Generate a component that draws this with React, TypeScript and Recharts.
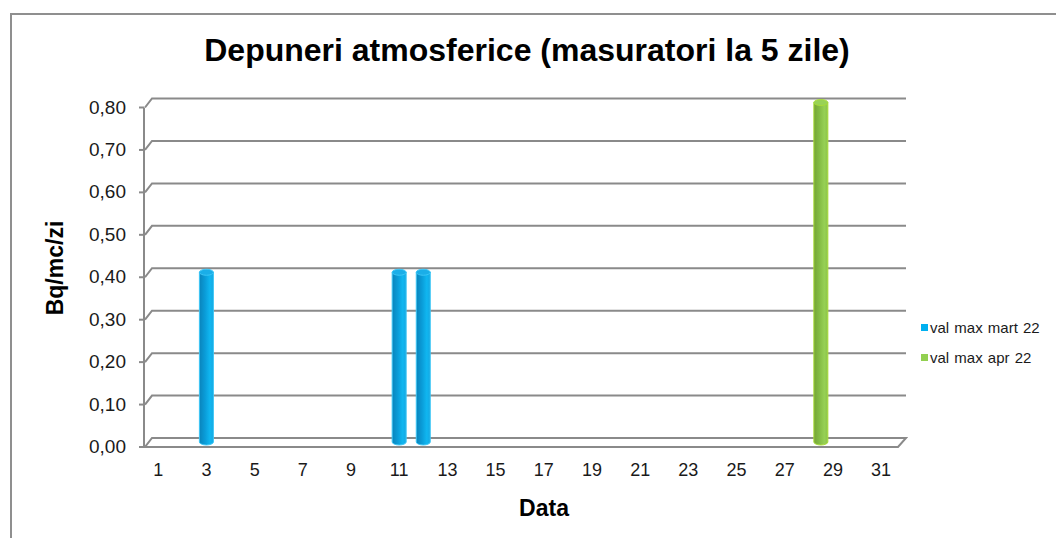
import { BarChart, Bar, XAxis, YAxis, CartesianGrid, Legend } from 'recharts'

// values
const martDays = [3, 11, 12]
const martValues = [0.4, 0.4, 0.4]
const aprDays = [28.5]
const aprValues = [0.8]
const xTicks = [1, 3, 5, 7, 9, 11, 13, 15, 17, 19, 21, 23, 25, 27, 29, 31]
const yTicks = [0, 0.1, 0.2, 0.3, 0.4, 0.5, 0.6, 0.7, 0.8]
const seriesNames = ['val max mart 22', 'val max apr 22']

const data = [
  ...martDays.map((d, i) => ({ day: d, mart: martValues[i], apr: null as number | null })),
  ...aprDays.map((d, i) => ({ day: d, mart: null as number | null, apr: aprValues[i] })),
]

const W = 1056
const H = 538
const PLOT_LEFT = 145
const PLOT_RIGHT = 898
const PLOT_TOP = 102.5
const PLOT_BOTTOM = 442
const FRONT = 5 // front edge is drawn below the mid plane
const BACK = 4 // back wall sits above it
const DEPTH = 7
const GRID = '#8a8a8a'

const COLORS: Record<string, { edge: string; top: string; legend: string }> = {
  mart: { edge: '#3cc6f6', top: '#1aaee8', legend: '#00b0f0' },
  apr: { edge: '#a8dc38', top: '#98d256', legend: '#92d050' },
}

function Cylinder(props: any) {
  const { x, y, width, height, dataKey } = props
  if (!height || height <= 0) return null
  const c = COLORS[dataKey]
  const rx = width / 2
  const ry = 3
  return (
    <g>
      <path
        d={`M${x},${y} L${x},${y + height} A${rx},${ry} 0 0 0 ${x + width},${y + height} L${x + width},${y} Z`}
        fill={`url(#cyl-${dataKey})`}
        stroke={c.edge}
        strokeWidth={1}
      />
      <ellipse cx={x + rx} cy={y} rx={rx} ry={ry} fill={c.top} stroke={c.edge} strokeWidth={1} />
    </g>
  )
}

function GridLine(props: any) {
  const { x1, x2, y1 } = props
  if (Math.abs(y1 - PLOT_BOTTOM) < 1) {
    // floor of the 3d box
    return (
      <path
        d={`M${x1},${y1 + FRONT} L${x2},${y1 + FRONT} L${x2 + DEPTH + 1},${y1 - BACK} L${x1 + DEPTH},${y1 - BACK} Z`}
        fill="none"
        stroke={GRID}
        strokeWidth={2}
      />
    )
  }
  const top = Math.abs(y1 - PLOT_TOP) < 1
  return (
    <g>
      <path
        d={`M${x1},${y1 + FRONT} L${x1 + DEPTH},${y1 - BACK} L${x2 + DEPTH + 1},${y1 - BACK}`}
        fill="none"
        stroke={GRID}
        strokeWidth={2}
      />
      {top && (
        <line x1={x1 - 1} y1={y1 + FRONT} x2={x1 - 1} y2={PLOT_BOTTOM + FRONT} stroke={GRID} strokeWidth={2} />
      )}
    </g>
  )
}

function YTick(props: any) {
  const { x, y, payload } = props
  const fy = y + FRONT
  return (
    <g>
      <line x1={x - 6} y1={fy} x2={x - 1} y2={fy} stroke={GRID} strokeWidth={2} />
      <text x={x - 19} y={fy + 6} textAnchor="end" fontSize={19} fill="#1a1a1a">
        {payload.value.toFixed(2).replace('.', ',')}
      </text>
    </g>
  )
}

function XTick(props: any) {
  const { x, y, payload } = props
  return (
    <text x={x} y={y + 34} textAnchor="middle" fontSize={18} fill="#1a1a1a">
      {payload.value}
    </text>
  )
}

function LegendBox() {
  return (
    <div style={{ fontFamily: 'Arial, "Liberation Sans", sans-serif', fontSize: 15, color: '#1a1a1a' }}>
      {seriesNames.map((name, i) => (
        <div key={name} style={{ display: 'flex', alignItems: 'center', height: 30 }}>
          <span
            style={{
              width: 7,
              height: 7,
              background: i === 0 ? COLORS.mart.legend : COLORS.apr.legend,
              marginRight: 2,
              display: 'inline-block',
            }}
          />
          <span style={{ wordSpacing: 1 }}>{name}</span>
        </div>
      ))}
    </div>
  )
}

export default function App() {
  return (
    <div
      style={{
        position: 'absolute',
        left: 0,
        top: 0,
        width: W,
        height: H,
        overflow: 'hidden',
        background: '#fff',
        fontFamily: 'Arial, "Liberation Sans", sans-serif',
      }}
    >
      <div
        style={{
          position: 'absolute',
          left: 10,
          top: 13,
          width: 1200,
          height: 700,
          borderLeft: '2px solid #8f8f8f',
          borderTop: '2px solid #8f8f8f',
        }}
      />
      <div
        style={{
          position: 'absolute',
          left: 527,
          top: 50,
          transform: 'translate(-50%, -50%)',
          fontWeight: 'bold',
          fontSize: 32,
          whiteSpace: 'nowrap',
          color: '#000',
        }}
      >
        Depuneri atmosferice (masuratori la 5 zile)
      </div>
      <div
        style={{
          position: 'absolute',
          left: 544,
          top: 508,
          transform: 'translate(-50%, -50%)',
          fontWeight: 'bold',
          fontSize: 23,
        }}
      >
        Data
      </div>
      <div
        style={{
          position: 'absolute',
          left: 55,
          top: 268,
          transform: 'translate(-50%, -50%) rotate(-90deg)',
          fontWeight: 'bold',
          fontSize: 23,
          whiteSpace: 'nowrap',
        }}
      >
        Bq/mc/zi
      </div>
      <BarChart
        width={W}
        height={H}
        data={data}
        style={{ position: 'absolute', left: 0, top: 0 }}
        margin={{ top: PLOT_TOP, right: W - PLOT_RIGHT, left: PLOT_LEFT - 60, bottom: H - PLOT_BOTTOM - 40 }}
      >
        <defs>
          <linearGradient id="cyl-mart" x1="0" y1="0" x2="1" y2="0">
            <stop offset="0%" stopColor="#0a84bb" />
            <stop offset="40%" stopColor="#0a9cd8" />
            <stop offset="75%" stopColor="#10b6f0" />
            <stop offset="100%" stopColor="#14a8e2" />
          </linearGradient>
          <linearGradient id="cyl-apr" x1="0" y1="0" x2="1" y2="0">
            <stop offset="0%" stopColor="#74a436" />
            <stop offset="40%" stopColor="#84bc44" />
            <stop offset="75%" stopColor="#96d054" />
            <stop offset="100%" stopColor="#8cc44a" />
          </linearGradient>
        </defs>
        <CartesianGrid vertical={false} horizontal={GridLine} />
        <XAxis
          dataKey="day"
          type="number"
          domain={[0.45, 31.7]}
          ticks={xTicks}
          interval={0}
          height={40}
          axisLine={false}
          tickLine={false}
          tickSize={0}
          tickMargin={0}
          tick={XTick}
        />
        <YAxis
          domain={[0, 0.8]}
          ticks={yTicks}
          width={60}
          axisLine={false}
          tickLine={false}
          tickSize={0}
          tickMargin={0}
          tick={YTick}
        />
        <Legend
          layout="vertical"
          align="center"
          verticalAlign="middle"
          content={<LegendBox />}
          wrapperStyle={{ position: 'absolute', left: 921, top: 312, width: 135, height: 60 }}
        />
        <Bar dataKey="mart" name={seriesNames[0]} stackId="s" barSize={14} shape={Cylinder} isAnimationActive={false} />
        <Bar dataKey="apr" name={seriesNames[1]} stackId="s" barSize={14} shape={Cylinder} isAnimationActive={false} />
      </BarChart>
    </div>
  )
}
